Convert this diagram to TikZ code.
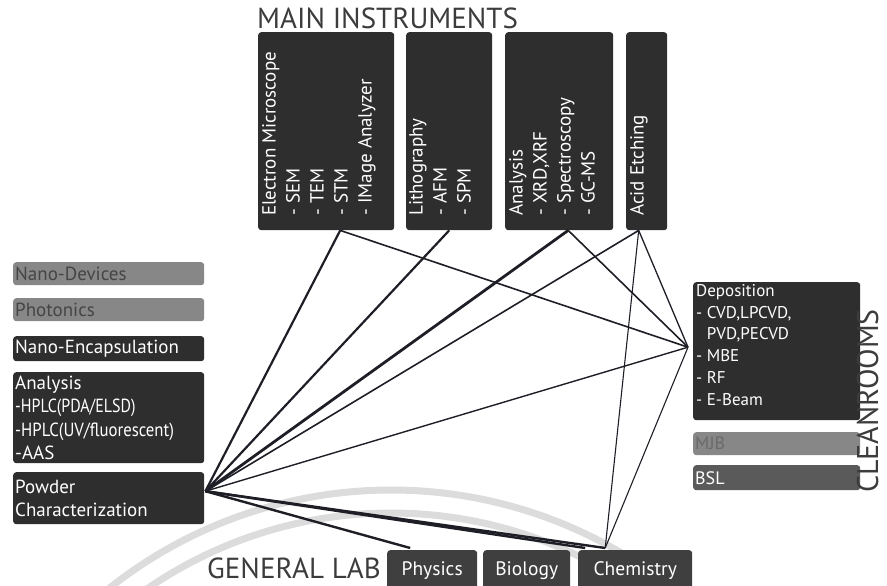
\documentclass[tikz,border=0pt]{standalone}
\usepackage{fontspec}
\setmainfont{PT Sans}
\usepackage{tikz}
\usetikzlibrary{calc}

\definecolor{boxdark}{HTML}{2E2E2E}
\definecolor{boxgray}{HTML}{878787}
\definecolor{boxmid}{HTML}{5A5A5A}
\definecolor{txtgray}{HTML}{454545}
\definecolor{titlegray}{HTML}{3C3C3C}
\definecolor{linedark}{HTML}{1E1E26}
\definecolor{wmark}{HTML}{DCDCDC}

\begin{document}
\begin{tikzpicture}[x=1pt,y=-1pt,
		bx/.style={fill=boxdark,rounded corners=3pt,inner sep=0pt,anchor=north west},
		lbox/.style={bx,minimum width=191,text width=187,align=left,inner xsep=2pt,text=white,font=\fontsize{19}{23.5}\selectfont},
		vtxt/.style={rotate=90,align=left,inner sep=0pt,anchor=north west,text=white,font=\fontsize{19}{24}\selectfont},
		title/.style={inner sep=0pt,text=titlegray,font=\fontsize{29}{29}\selectfont},
		link/.style={draw=linedark,line width=1.6pt}]
		\useasboundingbox (0,0) rectangle (887,586);
		\clip (0,0) rectangle (887,586);
		\draw[wmark,line width=7pt] (391,943) ++(226:453) arc (226:303:453);
		\draw[wmark,line width=7pt] (391,943) ++(229:430) arc (229:300:430);
		\node[title,anchor=base west] (mainttl) at (257,29) {MAIN INSTRUMENTS};
		\node[bx,minimum width=136,minimum height=198] (em) at (258,32) {};
		\node[bx,minimum width=86,minimum height=198] (lit) at (406,32) {};
		\node[bx,minimum width=108,minimum height=198] (ana) at (505,32) {};
		\node[bx,minimum width=41,minimum height=198] (aci) at (626,32) {};
		\node[vtxt] (emtxt) at (262,216) {Electron Microscope\\ - SEM\\ - TEM\\ - STM\\ - IMage Analyzer};
		\node[vtxt] (littxt) at (409,216) {Lithography\\ - AFM\\ - SPM};
		\node[vtxt] (anatxt) at (509,216) {Analysis\\ - XRD,XRF\\ - Spectroscopy\\ - GC-MS};
		\node[vtxt] (acitxt) at (630,216) {Acid Etching};
		\node[lbox,fill=boxgray,text=txtgray,minimum height=23] (ndev) at (13,262) {Nano-Devices};
		\node[lbox,fill=boxgray,text=txtgray,minimum height=23] (phot) at (13,298) {Photonics};
		\node[lbox,minimum height=25] (nenc) at (13,336) {Nano-Encapsulation};
		\node[lbox,minimum height=91] (lana) at (13,372) {Analysis\\\scalebox{0.84}[1]{-HPLC(PDA/ELSD)}\\\scalebox{0.88}[1]{-HPLC(UV/fluorescent)}\\-AAS};
		\node[lbox,minimum height=52] (pow) at (13,472) {Powder\\Characterization};
		\node[bx,minimum width=167,minimum height=138] (dep) at (693,282) {};
		\node[inner sep=0pt,anchor=north west,align=left,text=white,font=\fontsize{17}{21.8}\selectfont] (deptxt) at (696,284) {Deposition\\- CVD,LPCVD,\\\phantom{- }PVD,PECVD\\- MBE\\- RF\\- E-Beam};
		\node[bx,fill=boxgray,text=txtgray!80,minimum width=167,minimum height=23,text width=163,align=left,inner xsep=2pt,font=\fontsize{18}{18}\selectfont] (mjb) at (693,432) {MJB};
		\node[bx,fill=boxmid,text=white,minimum width=167,minimum height=25,text width=163,align=left,inner xsep=2pt,font=\fontsize{18}{18}\selectfont] (bsl) at (693,465) {BSL};
		\node[title,rotate=90,anchor=base west,font=\fontsize{30}{30}\selectfont] (clean) at (878,493) {CLEANROOMS};
		\node[title,anchor=base west] (genlab) at (207,578) {GENERAL LAB};
		\node[bx,fill=boxdark!92!white,minimum width=90,minimum height=40,text=white,font=\fontsize{19.5}{19.5}\selectfont] (phy) at (387,550) {Physics};
		\node[bx,fill=boxdark!92!white,minimum width=87,minimum height=40,text=white,font=\fontsize{19.5}{19.5}\selectfont] (bio) at (483,550) {Biology};
		\node[bx,fill=boxdark!92!white,minimum width=114,minimum height=40,text=white,font=\fontsize{19.5}{19.5}\selectfont] (chem) at (578,550) {Chemistry};
		\coordinate (hubL) at ([xshift=1pt,yshift=7pt]pow.east);
		\coordinate (hubR) at ([xshift=-5pt,yshift=4pt]dep.west);
		\coordinate (emb) at ([xshift=14pt]em.south);
		\coordinate (litb) at (lit.south);
		\coordinate (anab) at ([xshift=9pt]ana.south);
		\coordinate (acib) at ([xshift=-8pt]aci.south);
		\coordinate (phyt) at ([xshift=-22pt,yshift=2pt]phy.north);
		\coordinate (chemt) at ([xshift=-30pt,yshift=2pt]chem.north);
		\coordinate (chemu) at ([xshift=-50pt,yshift=2pt]chem.north);
		\draw[link,line width=2.2pt] (emb) -- (hubL);
		\draw[link] (emb) -- (hubR);
		\draw[link,line width=2.2pt] (litb) -- (hubL);
		\draw[link,line width=2.8pt] (anab) -- (hubL);
		\draw[link] (anab) -- (hubR);
		\draw[link] (acib) -- (hubL);
		\draw[link,line width=1.3pt] (acib) -- (hubR);
		\draw[link,line width=1.1pt] (acib) -- (chemt);
		\draw[link,line width=1.4pt] (hubR) -- (hubL);
		\draw[link,line width=1.1pt] (hubR) -- (chemt);
		\draw[link,line width=2.4pt] (hubL) -- (phyt);
		\draw[link,line width=2.4pt] (hubL) -- (chemt);
		\draw[link,line width=2.4pt] (hubL) -- (chemu);
\end{tikzpicture}
\end{document}
